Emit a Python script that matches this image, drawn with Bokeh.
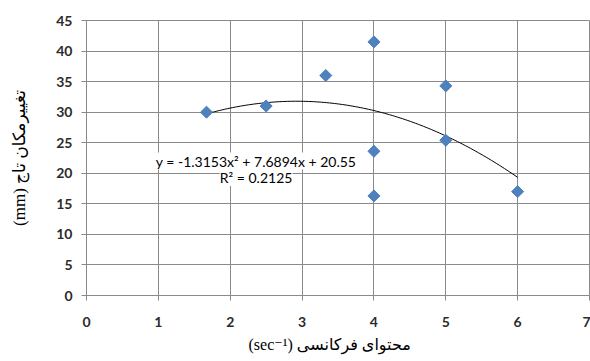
import numpy as np
from bokeh.plotting import figure
from bokeh.models import Range1d, SingleIntervalTicker, Label, Title
from bokeh.embed import file_html
from bokeh.resources import INLINE

# --- data ---
freq = [1.67, 2.5, 3.33, 4.0, 4.0, 4.0, 5.0, 5.0, 6.0]
crest = [30.0, 31.0, 36.0, 41.5, 23.6, 16.3, 34.3, 25.4, 17.0]
trend_coef = [-1.3153, 7.6894, 20.55]   # polynomial trendline shown on chart
eq_text = "y = -1.3153x² + 7.6894x + 20.55"
r2_text = "R² = 0.2125"
x_title = "(sec⁻¹) محتوای فرکانسی"
y_title = "(mm) تغییرمکان تاج"
x_ticks = [0, 1, 2, 3, 4, 5, 6, 7]
y_ticks = [0, 5, 10, 15, 20, 25, 30, 35, 40, 45]

GRID = "#8a8a8a"
TICK_FONT = "Lato"
SERIF = "Liberation Serif, DejaVu Sans"

p = figure(width=590, height=361, output_backend="svg", toolbar_location=None,
           x_range=Range1d(0, 7), y_range=Range1d(0, 45),
           min_border_left=86, min_border_right=1, min_border_top=20,
           min_border_bottom=66)
p.background_fill_color = "white"
p.border_fill_color = "white"
p.outline_line_color = GRID

p.xaxis.ticker = SingleIntervalTicker(interval=1, num_minor_ticks=0)
p.yaxis.ticker = SingleIntervalTicker(interval=5, num_minor_ticks=0)
for ax in (p.xaxis, p.yaxis):
    ax.axis_line_color = GRID
    ax.major_tick_line_color = GRID
    ax.major_tick_out = 5
    ax.major_tick_in = 0
    ax.minor_tick_line_color = None
    ax.major_label_text_font = TICK_FONT
    ax.major_label_text_font_size = "14px"
    ax.major_label_text_color = "#2b2b2b"
    ax.major_label_text_font_style = "bold"
p.xaxis.major_label_standoff = 16
p.yaxis.major_label_standoff = 9

p.yaxis.axis_label = y_title
p.yaxis.axis_label_text_font = SERIF
p.yaxis.axis_label_text_font_size = "17px"
p.yaxis.axis_label_text_font_style = "normal"
p.yaxis.axis_label_text_color = "black"
p.yaxis.axis_label_standoff = 24

p.add_layout(Title(text=x_title, align="left", offset=162,
                   text_font=SERIF, text_font_size="16px",
                   text_font_style="normal", text_color="black",
                   standoff=8), "below")

p.xgrid.grid_line_color = GRID
p.ygrid.grid_line_color = GRID
p.xgrid.grid_line_width = 1
p.ygrid.grid_line_width = 1

# trendline (polynomial, order 2) over the data's x span
xs = np.linspace(min(freq), max(freq), 120)
ys = np.polyval(trend_coef, xs)
p.line(xs, ys, line_color="black", line_width=1)

p.scatter(freq, crest, marker="square", angle=np.pi / 4, size=8.5,
          fill_color="#4F81BD", line_color="#4A7EBB")

eq_pos = (2.36, 22.0)
r2_pos = (2.36, 19.3)
for txt, pos in ((eq_text, eq_pos), (r2_text, r2_pos)):
    p.add_layout(Label(x=pos[0], y=pos[1], text=txt, text_align="center",
                       text_baseline="middle", text_font=TICK_FONT,
                       text_font_size="14px", text_color="black",
                       background_fill_color="white", background_fill_alpha=1.0))

open("out.html", "w").write(file_html(p, INLINE))
